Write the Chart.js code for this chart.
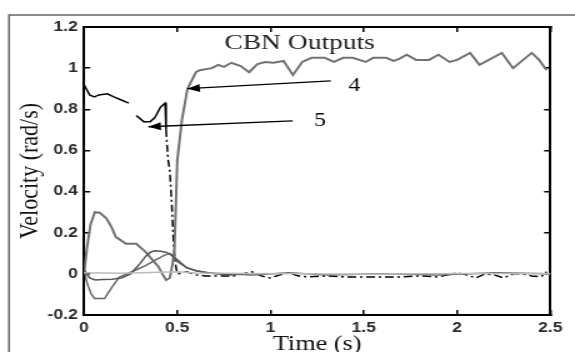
<!DOCTYPE html>
<html>
<head>
<meta charset="utf-8">
<script src="https://cdn.jsdelivr.net/npm/chart.js@4.4.0/dist/chart.umd.min.js"></script>
<style>
html, body { margin:0; padding:0; overflow:hidden; background:#fff; }
#wrap { width:575px; height:352px; overflow:hidden; }
</style>
</head>
<body>
<div id="wrap"><canvas id="chart" width="460" height="372" style="width:575px;height:372px"></canvas></div>
<script>
// axis ticks
var xTicks = [0, 0.5, 1, 1.5, 2, 2.5];
var yTicks = [-0.2, 0, 0.2, 0.4, 0.6, 0.8, 1, 1.2];

// output 4 (gray, goes to 1)
var t4 = [0, 0.015, 0.035, 0.058, 0.084, 0.12, 0.146, 0.17, 0.225, 0.28, 0.33, 0.40, 0.42, 0.44, 0.46, 0.475, 0.485, 0.5, 0.525, 0.555, 0.6, 0.62, 0.685, 0.72, 0.75, 0.79, 0.84, 0.885, 0.93, 0.97, 1.015, 1.07, 1.12, 1.17, 1.22, 1.29, 1.34, 1.39, 1.44, 1.51, 1.55, 1.62, 1.66, 1.69, 1.73, 1.78, 1.85, 1.90, 1.96, 2.0, 2.07, 2.12, 2.24, 2.30, 2.40, 2.44, 2.48];
var v4 = [0, 0.12, 0.24, 0.30, 0.297, 0.27, 0.23, 0.18, 0.146, 0.146, 0.107, 0.034, 0.0, -0.03, -0.02, 0.05, 0.12, 0.55, 0.75, 0.90, 0.98, 0.99, 1.0, 1.016, 1.006, 1.026, 1.01, 0.98, 1.02, 1.03, 1.026, 1.035, 0.967, 1.03, 1.05, 1.05, 1.03, 1.05, 1.05, 1.03, 1.05, 1.05, 1.035, 1.045, 1.065, 1.04, 1.04, 1.065, 1.03, 1.04, 1.074, 1.016, 1.074, 1.0, 1.074, 1.04, 0.99];

// output 5 (black, drops to 0)
var t5 = [0, 0.015, 0.03, 0.055, 0.08, 0.125, 0.16, 0.2, 0.24, 0.26, 0.28, 0.32, 0.355, 0.38, 0.41, 0.435, 0.44, 0.45, 0.46, 0.47, 0.48, 0.49, 0.5, 0.55, 0.6, 0.65, 0.7, 0.8, 0.85, 0.9, 0.95, 1.0, 1.05, 1.1, 1.15, 1.2, 1.3, 1.4, 1.5, 1.6, 1.7, 1.8, 1.9, 1.95, 2.0, 2.05, 2.1, 2.15, 2.2, 2.25, 2.3, 2.35, 2.4, 2.45, 2.48];
var v5 = [0.92, 0.895, 0.87, 0.86, 0.87, 0.875, 0.86, 0.845, 0.83, null, 0.77, 0.74, 0.74, 0.76, 0.81, 0.83, 0.70, 0.56, 0.50, 0.35, 0.15, 0.05, 0.0, 0.01, -0.005, -0.01, -0.01, -0.01, 0.0, 0.01, -0.01, -0.02, -0.005, 0.005, -0.01, -0.015, -0.01, -0.015, -0.015, -0.015, -0.015, -0.01, -0.015, -0.005, 0.005, -0.005, -0.02, 0.0, -0.005, -0.02, 0.0, 0.0, -0.01, -0.015, 0.01];

// other outputs near zero
var t1 = [0, 0.01, 0.02, 0.04, 0.057, 0.11, 0.15, 0.19, 0.23, 0.28, 0.33, 0.38, 0.43, 0.46, 0.5, 0.55, 0.6, 0.66, 0.75, 0.9, 1.1, 1.3, 1.6, 1.9, 2.2, 2.5];
var v1 = [0.02, -0.02, -0.055, -0.1, -0.12, -0.12, -0.065, -0.015, 0.0, 0.02, 0.04, 0.065, 0.09, 0.1, 0.07, 0.03, 0.015, 0.005, 0.0, -0.005, 0.005, -0.005, 0.0, -0.005, 0.005, 0.0];
var t2 = [0, 0.03, 0.06, 0.1, 0.15, 0.2, 0.25, 0.28, 0.3, 0.33, 0.355, 0.38, 0.41, 0.44, 0.47, 0.5, 0.55, 0.6, 0.7, 0.8];
var v2 = [0.02, -0.02, -0.03, -0.028, -0.026, -0.02, 0.0, 0.03, 0.05, 0.085, 0.105, 0.112, 0.11, 0.105, 0.09, 0.06, 0.03, 0.015, 0.0, -0.005];
var t3 = [0, 0.2, 0.4, 0.5, 0.6, 0.9, 1.2, 1.5, 1.8, 2.1, 2.5];
var v3 = [0.005, 0.003, 0.008, 0.01, 0.004, 0.002, 0.0, -0.002, 0.0, 0.002, 0.0];

// annotations, in data units
var arrowLabels = ['4', '5'];
var arrowFrom = [[1.323, 0.938], [1.119, 0.744]];
var arrowTo = [[0.554, 0.90], [0.345, 0.715]];
var labelAt = [[1.449, 0.914], [1.266, 0.744]];
var plotTitle = 'CBN Outputs';
var plotTitleAt = [1.156, 1.123];

function pts(t, v) {
    var out = [];
    for (var i = 0; i < t.length; i++) {
        out.push({x: t[i], y: v[i]});
    }
    return out;
}

var decor = {
    id: 'decor',
    afterDraw: function(chart) {
        var c = chart.ctx;
        var sx = chart.scales.x, sy = chart.scales.y;
        c.save();
        // outer figure frame
        c.strokeStyle = '#666';
        c.lineWidth = 1.5;
        c.beginPath();
        c.moveTo(7.2, chart.height);
        c.lineTo(7.2, 15);
        c.lineTo(chart.width, 15);
        c.stroke();

        // title inside plot
        c.fillStyle = '#222';
        c.font = '22px "Liberation Serif", "Times New Roman", serif';
        c.textAlign = 'center';
        c.textBaseline = 'middle';
        c.fillText(plotTitle, sx.getPixelForValue(plotTitleAt[0]), sy.getPixelForValue(plotTitleAt[1]));

        // arrows
        c.strokeStyle = '#000';
        c.fillStyle = '#000';
        c.lineWidth = 1.3;
        for (var i = 0; i < arrowLabels.length; i++) {
            var x0 = sx.getPixelForValue(arrowFrom[i][0]), y0 = sy.getPixelForValue(arrowFrom[i][1]);
            var x1 = sx.getPixelForValue(arrowTo[i][0]), y1 = sy.getPixelForValue(arrowTo[i][1]);
            var a = Math.atan2(y1 - y0, x1 - x0);
            c.beginPath();
            c.moveTo(x0, y0);
            c.lineTo(x1, y1);
            c.stroke();
            c.beginPath();
            c.moveTo(x1, y1);
            c.lineTo(x1 - 10 * Math.cos(a) + 4 * Math.sin(a), y1 - 10 * Math.sin(a) - 4 * Math.cos(a));
            c.lineTo(x1 - 10 * Math.cos(a) - 4 * Math.sin(a), y1 - 10 * Math.sin(a) + 4 * Math.cos(a));
            c.closePath();
            c.fill();
            c.font = '19px "Liberation Serif", "Times New Roman", serif';
            c.fillText(arrowLabels[i], sx.getPixelForValue(labelAt[i][0]), sy.getPixelForValue(labelAt[i][1]));
        }
        c.restore();
    }
};

var tickFont = {family: '"Liberation Sans", Arial, sans-serif', size: 14, weight: 'bold'};
var gridOpts = {drawOnChartArea: false, drawTicks: true, tickLength: -5, color: '#000', lineWidth: 1.5};
var borderOpts = {display: true, color: '#000', width: 2};

new Chart(document.getElementById('chart'), {
    type: 'line',
    data: {
        datasets: [
            {label: '3', data: pts(t3, v3), borderColor: '#bbbbbb', borderWidth: 1.5},
            {label: '2', data: pts(t2, v2), borderColor: '#555555', borderWidth: 1.5},
            {label: '1', data: pts(t1, v1), borderColor: '#666666', borderWidth: 1.5},
            {label: '4', data: pts(t4, v4), borderColor: '#727272', borderWidth: 2},
            {label: '5', data: pts(t5, v5), borderColor: '#000000', borderWidth: 1.5,
             segment: {borderDash: function(ctx) { return ctx.p0.parsed.x >= 0.44 ? [7, 3, 2, 3] : undefined; }}}
        ]
    },
    options: {
        responsive: false,
        devicePixelRatio: 1,
        animation: false,
        spanGaps: false,
        elements: {point: {radius: 0}, line: {tension: 0, fill: false}},
        layout: {padding: {left: 0, right: 10.4, top: 27, bottom: 0}},
        plugins: {legend: {display: false}, tooltip: {enabled: false}},
        scales: {
            x: {
                type: 'linear', position: 'bottom', min: 0, max: 2.5,
                afterBuildTicks: function(s) { s.ticks = xTicks.map(function(v) { return {value: v}; }); },
                afterFit: function(s) { s.height = 57; },
                grid: gridOpts, border: borderOpts,
                ticks: {font: tickFont, color: '#2a2a2a', padding: 10, maxRotation: 0,
                        callback: function(v) { return String(+v.toFixed(1)); }},
                title: {display: true, text: 'Time (s)', color: '#111', padding: {top: 15, bottom: 15},
                        font: {family: '"Liberation Serif", "Times New Roman", serif', size: 21, weight: 'normal'}}
            },
            x2: {
                type: 'linear', position: 'top', min: 0, max: 2.5,
                afterBuildTicks: function(s) { s.ticks = xTicks.map(function(v) { return {value: v}; }); },
                afterFit: function(s) { s.height = 0; },
                grid: gridOpts, border: borderOpts, ticks: {display: false}
            },
            y: {
                type: 'linear', position: 'left', min: -0.2, max: 1.2,
                afterBuildTicks: function(s) { s.ticks = yTicks.map(function(v) { return {value: v}; }); },
                afterFit: function(s) { s.width = 67.2; },
                grid: gridOpts, border: borderOpts,
                ticks: {font: tickFont, color: '#2a2a2a', padding: 10,
                        callback: function(v) { return String(+v.toFixed(1)); }},
                title: {display: true, text: 'Velocity (rad/s)', color: '#111', padding: {top: 11, bottom: 4},
                        font: {family: '"Liberation Serif", "Times New Roman", serif', size: 22, weight: 'normal'}}
            },
            y2: {
                type: 'linear', position: 'right', min: -0.2, max: 1.2,
                afterBuildTicks: function(s) { s.ticks = yTicks.map(function(v) { return {value: v}; }); },
                afterFit: function(s) { s.width = 0; },
                grid: gridOpts, border: borderOpts, ticks: {display: false}
            }
        }
    },
    plugins: [decor]
});
</script>
</body>
</html>
